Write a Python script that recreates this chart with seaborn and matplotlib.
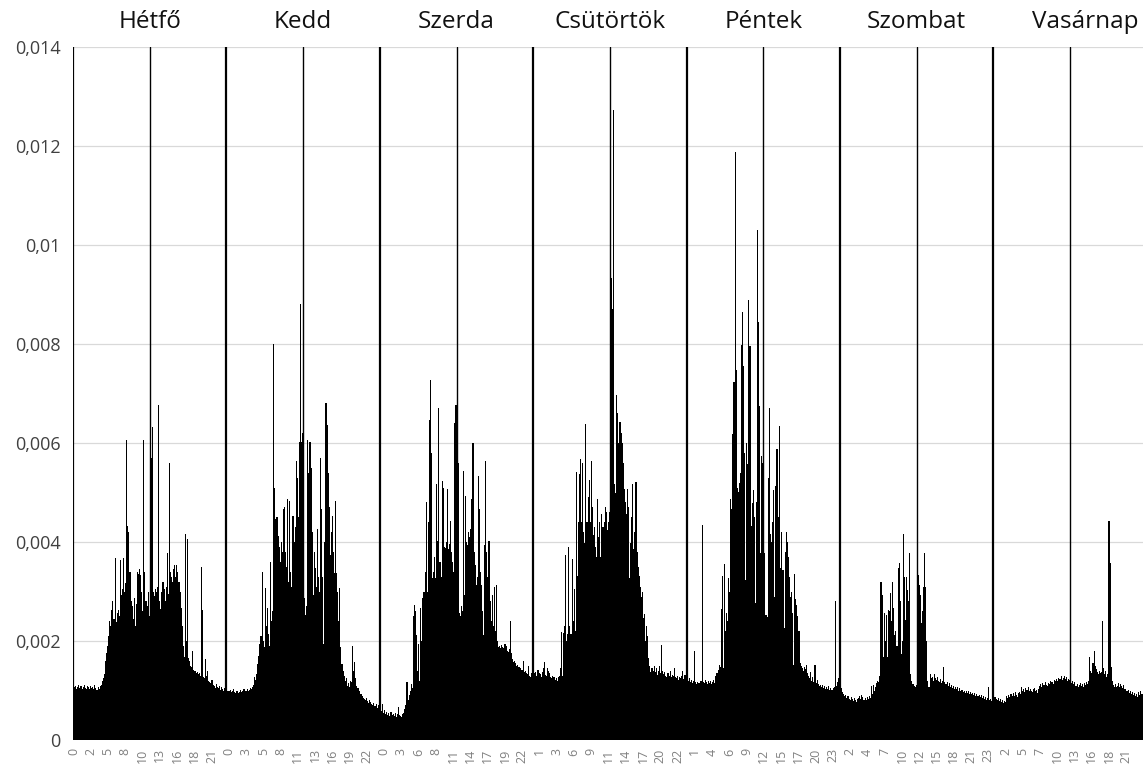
#!/usr/bin/env python3
"""Weekly activity profile: share per 10-minute slot, Monday to Sunday."""

import matplotlib.pyplot as plt
import numpy as np
import pandas as pd
import seaborn as sns

# Day names (top labels)
DAYS = ["Hétfő", "Kedd", "Szerda", "Csütörtök", "Péntek", "Szombat", "Vasárnap"]

# 144 ten-minute slots per day, values in units of 1e-5
HETFO = [
    112, 108, 110, 104, 107, 111, 105, 109, 103, 108, 112, 106,
    104, 110, 107, 103, 109, 105, 108, 104, 111, 106, 102, 107,
    104, 109, 112, 119, 126, 133, 160, 175, 190, 210, 240, 230,
    262, 281, 245, 367, 238, 256, 262, 250, 363, 293, 305, 367,
    300, 318, 607, 433, 420, 340, 280, 270, 245, 287, 230, 275,
    340, 335, 345, 333, 300, 260, 607, 340, 280, 270, 300, 250,
    633, 570, 633, 300, 290, 305, 300, 310, 677, 280, 265, 300,
    320, 305, 280, 310, 377, 295, 560, 340, 330, 320, 345, 353,
    330, 353, 340, 320, 300, 267, 230, 190, 167, 417, 200, 407,
    165, 160, 150, 147, 180, 142, 140, 135, 138, 133, 136, 130,
    350, 263, 128, 125, 163, 130, 140, 120, 118, 115, 122, 112,
    110, 105, 113, 108, 106, 110, 102, 107, 104, 100, 105, 98,
]
KEDD = [
    105, 100, 98, 102, 96, 99, 103, 97, 95, 100, 98, 94,
    97, 101, 96, 99, 103, 98, 100, 104, 99, 102, 106, 103,
    108, 112, 127, 122, 133, 153, 170, 193, 210, 340, 200, 187,
    307, 230, 267, 215, 190, 360, 240, 260, 800, 510, 447, 450,
    413, 390, 360, 400, 380, 467, 470, 380, 350, 487, 320, 483,
    340, 310, 453, 400, 430, 563, 530, 450, 603, 880, 603, 620,
    440, 287, 253, 270, 607, 540, 603, 550, 420, 293, 380, 347,
    310, 427, 330, 300, 570, 467, 330, 193, 400, 680, 637, 540,
    470, 373, 420, 453, 380, 337, 483, 337, 300, 240, 307, 187,
    153, 140, 130, 120, 125, 110, 115, 107, 120, 118, 190, 140,
    157, 125, 110, 105, 100, 93, 92, 88, 85, 82, 80, 84,
    78, 75, 80, 76, 72, 70, 74, 68, 72, 65, 70, 63,
]
SZERDA = [
    62, 58, 73, 55, 60, 52, 57, 50, 54, 48, 56, 51,
    53, 49, 55, 47, 52, 67, 50, 48, 46, 53, 55, 62,
    70, 117, 80, 90, 100, 113, 105, 250, 273, 260, 213, 140,
    193, 120, 267, 200, 287, 300, 340, 480, 300, 440, 647, 727,
    580, 327, 340, 370, 327, 517, 403, 670, 360, 330, 523, 510,
    390, 387, 400, 507, 385, 395, 443, 380, 360, 340, 640, 677,
    600, 560, 257, 250, 270, 260, 543, 293, 493, 400, 393, 420,
    410, 427, 487, 600, 380, 353, 313, 330, 533, 467, 340, 313,
    260, 213, 393, 563, 380, 330, 403, 280, 240, 293, 230, 310,
    220, 313, 200, 187, 190, 185, 192, 188, 185, 193, 190, 180,
    178, 183, 240, 175, 163, 158, 160, 155, 150, 152, 148, 147,
    145, 142, 160, 138, 140, 135, 133, 150, 130, 128, 135, 127,
]
CSUTORTOK = [
    140, 135, 138, 130, 142, 136, 133, 128, 137, 145, 158, 132,
    130, 145, 140, 135, 128, 125, 130, 127, 122, 125, 120, 128,
    130, 145, 219, 130, 217, 230, 373, 200, 215, 390, 230, 215,
    365, 240, 306, 220, 542, 331, 440, 538, 567, 440, 559, 420,
    398, 639, 440, 491, 525, 440, 563, 470, 415, 430, 390, 369,
    487, 411, 440, 369, 457, 430, 440, 470, 460, 424, 440, 460,
    500, 934, 871, 1272, 517, 500, 696, 660, 601, 643, 620, 601,
    560, 508, 480, 457, 508, 470, 327, 398, 450, 518, 386, 420,
    521, 380, 350, 331, 310, 289, 300, 246, 255, 200, 230, 210,
    166, 150, 137, 145, 140, 150, 138, 145, 132, 140, 150, 135,
    192, 140, 133, 138, 130, 128, 135, 130, 140, 128, 132, 130,
    145, 128, 125, 130, 122, 127, 125, 130, 140, 124, 132, 128,
]
PENTEK = [
    144, 120, 125, 118, 122, 115, 120, 179, 117, 113, 118, 115,
    116, 120, 434, 118, 115, 121, 117, 114, 120, 116, 119, 113,
    118, 121, 115, 130, 136, 142, 152, 148, 265, 331, 145, 356,
    220, 257, 240, 327, 300, 487, 467, 619, 724, 1188, 748, 510,
    502, 520, 540, 798, 865, 756, 580, 323, 600, 557, 888, 795,
    432, 479, 506, 450, 277, 480, 1031, 845, 674, 378, 573, 560,
    480, 378, 253, 249, 530, 670, 417, 401, 440, 506, 288, 514,
    588, 588, 450, 635, 347, 420, 343, 226, 380, 421, 401, 370,
    330, 288, 300, 257, 152, 335, 284, 273, 250, 220, 156, 150,
    145, 140, 148, 144, 152, 135, 130, 125, 138, 120, 128, 118,
    152, 115, 122, 113, 110, 112, 108, 111, 105, 109, 103, 107,
    104, 110, 102, 106, 101, 105, 108, 280, 110, 118, 125, 110,
]
SZOMBAT = [
    117, 105, 97, 92, 88, 90, 85, 88, 83, 80, 86, 82,
    79, 84, 80, 77, 82, 85, 88, 83, 90, 86, 81, 84,
    80, 87, 83, 89, 85, 110, 92, 112, 100, 108, 115, 120,
    118, 130, 320, 293, 167, 257, 200, 253, 167, 263, 260, 297,
    240, 320, 267, 213, 220, 190, 347, 357, 280, 173, 200, 417,
    330, 243, 330, 303, 280, 377, 133, 120, 113, 110, 107, 112,
    115, 333, 313, 293, 237, 260, 310, 377, 310, 200, 120, 107,
    133, 125, 127, 120, 133, 125, 122, 127, 120, 118, 124, 115,
    120, 147, 118, 113, 117, 110, 115, 108, 112, 106, 110, 104,
    108, 103, 107, 100, 105, 98, 102, 97, 100, 95, 99, 94,
    98, 93, 96, 92, 95, 90, 94, 89, 92, 88, 91, 86,
    90, 85, 88, 82, 86, 80, 84, 107, 80, 83, 78, 82,
]
VASARNAP = [
    90, 87, 83, 80, 85, 78, 82, 76, 80, 74, 79, 77,
    88, 84, 90, 86, 92, 89, 94, 88, 96, 91, 87, 95,
    97, 93, 107, 99, 103, 96, 105, 101, 107, 98, 104, 100,
    97, 103, 106, 99, 102, 95, 104, 110, 113, 108, 115, 111,
    117, 112, 109, 116, 114, 120, 118, 117, 113, 122, 119, 124,
    120, 126, 123, 130, 121, 125, 130, 124, 127, 119, 123, 121,
    118, 115, 120, 113, 117, 110, 114, 108, 112, 116, 110, 113,
    107, 115, 111, 118, 113, 120, 167, 140, 135, 155, 180, 150,
    143, 138, 133, 140, 135, 137, 240, 145, 133, 140, 128, 133,
    443, 357, 147, 120, 112, 107, 113, 108, 110, 115, 107, 113,
    110, 106, 112, 104, 100, 98, 102, 95, 99, 93, 97, 90,
    95, 88, 92, 87, 96, 90, 100, 93, 97, 89, 95, 92,
]

# Hour labels shown along the x axis (every ~16 slots, as in the source chart)
HOUR_LABELS = [
    "0", "2", "5", "8", "10", "13", "16", "18", "21",
    "0", "3", "5", "8", "11", "13", "16", "19", "22",
    "0", "3", "6", "8", "11", "14", "17", "19", "22",
    "1", "3", "6", "9", "11", "14", "17", "20", "22",
    "1", "4", "6", "9", "12", "15", "17", "20", "23",
    "2", "4", "7", "10", "12", "15", "18", "21", "23",
    "2", "5", "7", "10", "13", "16", "18", "21",
]

Y_TICKS = [0, 0.002, 0.004, 0.006, 0.008, 0.01, 0.012, 0.014]
Y_LABELS = ["0", "0,002", "0,004", "0,006", "0,008", "0,01", "0,012", "0,014"]

SLOTS = 144
LABEL_STEP = 16.2


def main():
    week = [HETFO, KEDD, SZERDA, CSUTORTOK, PENTEK, SZOMBAT, VASARNAP]
    values = np.concatenate([np.array(d, dtype=float) for d in week]) / 1e5
    df = pd.DataFrame({"slot": np.arange(len(values)), "share": values})
    n = len(values)

    sns.set_style("white")
    plt.rcParams["font.family"] = ["Open Sans", "DejaVu Sans"]

    fig = plt.figure(figsize=(11.43, 7.69), dpi=100)
    ax = fig.add_axes([73 / 1143, 29 / 769, n * 1.0653 / 1143, 693 / 769])

    sns.barplot(
        data=df,
        x="slot",
        y="share",
        native_scale=True,
        color="black",
        width=1.0,
        linewidth=0,
        errorbar=None,
        ax=ax,
    )
    for p in ax.patches:
        p.set_facecolor("black")

    # day boundaries (thick) and noon lines (thin)
    for d in range(len(week) + 1):
        ax.axvline(d * SLOTS - 0.5, color="black", linewidth=1.6, zorder=3)
    for d in range(len(week)):
        ax.axvline(d * SLOTS + SLOTS / 2 - 0.5, color="black", linewidth=1.0, zorder=3)

    ax.set_xlim(-0.5, n - 0.5)
    ax.set_ylim(0, 0.014)
    ax.set_yticks(Y_TICKS, Y_LABELS)
    ax.yaxis.grid(True, color="#d9d9d9", linewidth=0.9)
    ax.set_axisbelow(True)
    ax.tick_params(axis="y", length=0, pad=9, labelsize=13, labelcolor="#404040")

    ax.set_xticks(np.arange(len(HOUR_LABELS)) * LABEL_STEP, HOUR_LABELS)
    ax.tick_params(axis="x", length=0, pad=6, labelsize=9, labelcolor="#808080",
                   labelrotation=90)
    ax.set_xlabel("")
    ax.set_ylabel("")
    for s in ax.spines.values():
        s.set_visible(False)

    trans = ax.get_xaxis_transform()
    for d, name in enumerate(DAYS):
        xc = d * SLOTS + SLOTS / 2 - 0.5
        if d == len(DAYS) - 1:
            xc += 14
        ax.text(xc, 1.036, name, transform=trans, ha="center", va="center",
                fontsize=17.5, color="#111111", clip_on=False)

    fig.savefig("out.png", dpi=100)
    plt.close(fig)


if __name__ == "__main__":
    main()
